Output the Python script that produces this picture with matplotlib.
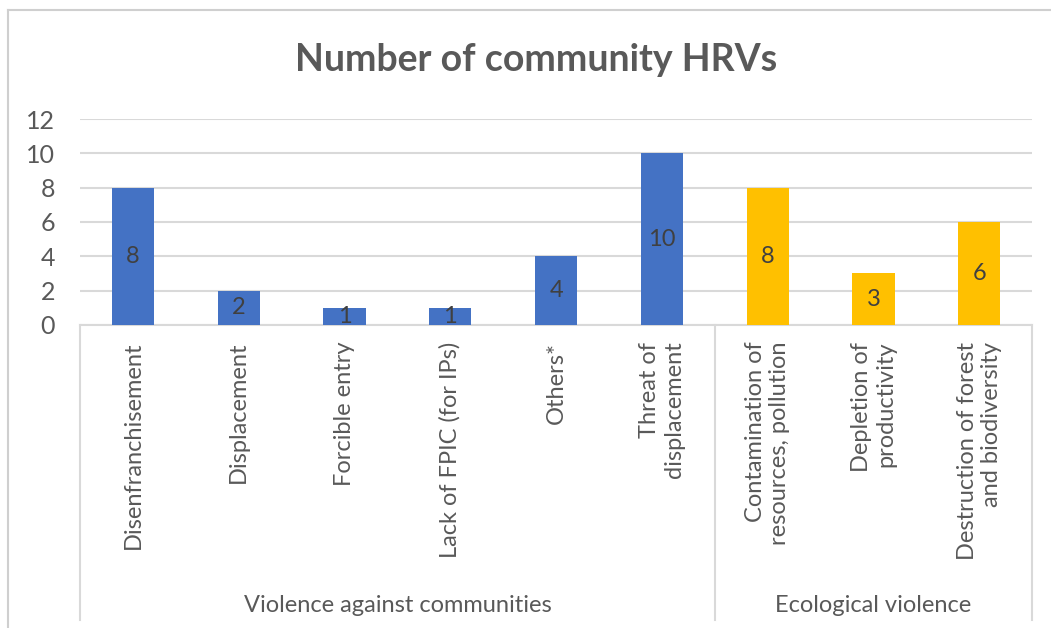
import matplotlib.pyplot as plt
from matplotlib.lines import Line2D
from matplotlib.transforms import blended_transform_factory

# ---------------------------------------------------------------------------
# Data
# ---------------------------------------------------------------------------
categories = [
    "Disenfranchisement",
    "Displacement",
    "Forcible entry",
    "Lack of FPIC (for IPs)",
    "Others*",
    "Threat of\ndisplacement",
    "Contamination of\nresources, pollution",
    "Depletion of\nproductivity",
    "Destruction of forest\nand biodiversity",
]
counts = [8, 2, 1, 1, 4, 10, 8, 3, 6]
group_names = ["Violence against communities", "Ecological violence"]
group_sizes = [6, 3]

# ---------------------------------------------------------------------------
# Style
# ---------------------------------------------------------------------------
BLUE = "#4472C4"
GOLD = "#FFC000"
TEXT = "#595959"
GRID = "#D9D9D9"
FS = 17

plt.rcParams["font.family"] = ["Lato", "DejaVu Sans"]

fig = plt.figure(figsize=(10.51, 6.28), dpi=100)
ax = fig.add_axes([0.0761, 0.4825, 0.906, 0.328])

colors = []
for size, c in zip(group_sizes, [BLUE, GOLD]):
    colors += [c] * size

x = list(range(len(categories)))
bars = ax.bar(x, counts, width=0.4, color=colors, zorder=3)
ax.bar_label(bars, labels=[str(v) for v in counts], label_type="center",
             fontsize=FS, color="#404040")

ax.set_xlim(-0.5, len(categories) - 0.5)
ax.set_ylim(0, 12)
ax.set_yticks(range(0, 13, 2))
ax.yaxis.grid(True, color=GRID, linewidth=1.5, zorder=0)
ax.tick_params(axis="y", length=0, labelsize=FS + 1, labelcolor=TEXT, pad=18)

ax.set_xticks(x)
ax.set_xticklabels(categories, rotation=90, va="top", ha="center",
                   multialignment="right", fontsize=FS, color=TEXT)
ax.tick_params(axis="x", length=0, pad=12)

for side in ["top", "right", "left"]:
    ax.spines[side].set_visible(False)
ax.spines["bottom"].set_color(GRID)
ax.spines["bottom"].set_linewidth(1.5)

# group separators and labels below the category axis
trans = blended_transform_factory(ax.transData, ax.transAxes)
edges = [-0.5]
for size in group_sizes:
    edges.append(edges[-1] + size)
for e in edges:
    ax.add_line(Line2D([e, e], [0, -1.43], transform=trans, color=GRID,
                       linewidth=1.5, clip_on=False))
for name, lo, hi in zip(group_names, edges[:-1], edges[1:]):
    ax.text((lo + hi) / 2, -1.36, name, transform=trans, ha="center",
            va="center", fontsize=FS, color=TEXT)

fig.text(0.51, 0.904, "Number of community HRVs", ha="center", va="center",
         fontsize=27, fontweight="bold", color=TEXT)

# outer chart frame
fig.add_artist(Line2D([0.0076, 1.0], [0.984, 0.984], color="#CFCFCF",
                      linewidth=1.5))
fig.add_artist(Line2D([0.0076, 0.0076], [0.0, 0.984], color="#CFCFCF",
                      linewidth=1.5))

fig.savefig("out.png", dpi=100)
